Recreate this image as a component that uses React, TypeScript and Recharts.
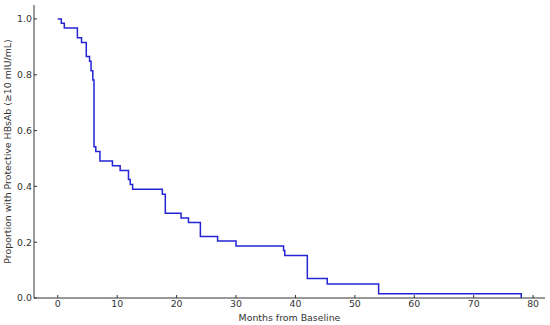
import { LineChart, Line, XAxis, YAxis, Label } from "recharts";

// Kaplan-Meier estimate
const months = [
  0, 0.6, 1.1, 3.3, 4.0, 4.8, 5.35, 5.6, 5.9, 6.1, 6.4, 7.1, 9.2, 10.5, 11.9,
  12.2, 12.6, 17.6, 18.1, 20.75, 22.0, 24.0, 26.9, 30.0, 38.0, 38.2, 42.0,
  45.35, 54.0, 78.0,
];
const survival = [
  1.0, 0.985, 0.968, 0.933, 0.916, 0.865, 0.848, 0.814, 0.781, 0.542, 0.525,
  0.491, 0.474, 0.457, 0.425, 0.407, 0.39, 0.372, 0.304, 0.287, 0.271, 0.22,
  0.204, 0.186, 0.17, 0.152, 0.07, 0.05, 0.0155, 0.0,
];
const xTicks = [0, 10, 20, 30, 40, 50, 60, 70, 80];
const yTicks = [0, 0.2, 0.4, 0.6, 0.8, 1.0];

const data = months.map((t, i) => ({ t, s: survival[i] }));

const axisColor = "#333";
const font = { fill: "#333", fontSize: 9.4, fontFamily: "DejaVu Sans" };

export default function App() {
  return (
    <div style={{ position: "absolute", left: 0, top: 0 }}>
      <LineChart
        width={550}
        height={325}
        data={data}
        margin={{ top: 5, right: 5, left: 0, bottom: 0 }}
      >
        <XAxis
          dataKey="t"
          type="number"
          domain={[-4, 82]}
          ticks={xTicks}
          allowDataOverflow
          height={27}
          stroke={axisColor}
          tick={font}
          tickSize={-3}
          tickMargin={5}
        >
          <Label
            value="Months from Baseline"
            position="insideBottom"
            offset={4}
            style={font}
          />
        </XAxis>
        <YAxis
          type="number"
          domain={[0, 1.05]}
          ticks={yTicks}
          allowDataOverflow
          width={34}
          stroke={axisColor}
          tick={font}
          tickSize={-3}
          tickMargin={5}
          tickFormatter={(v: number) => v.toFixed(1)}
        >
          <Label
            value="Proportion with Protective HBsAb (≥10 mIU/mL)"
            angle={-90}
            position="insideLeft"
            offset={8}
            style={{ ...font, textAnchor: "middle" }}
          />
        </YAxis>
        <Line
          type="stepAfter"
          dataKey="s"
          stroke="#2424d4"
          strokeWidth={1.5}
          dot={false}
          isAnimationActive={false}
        />
      </LineChart>
    </div>
  );
}
